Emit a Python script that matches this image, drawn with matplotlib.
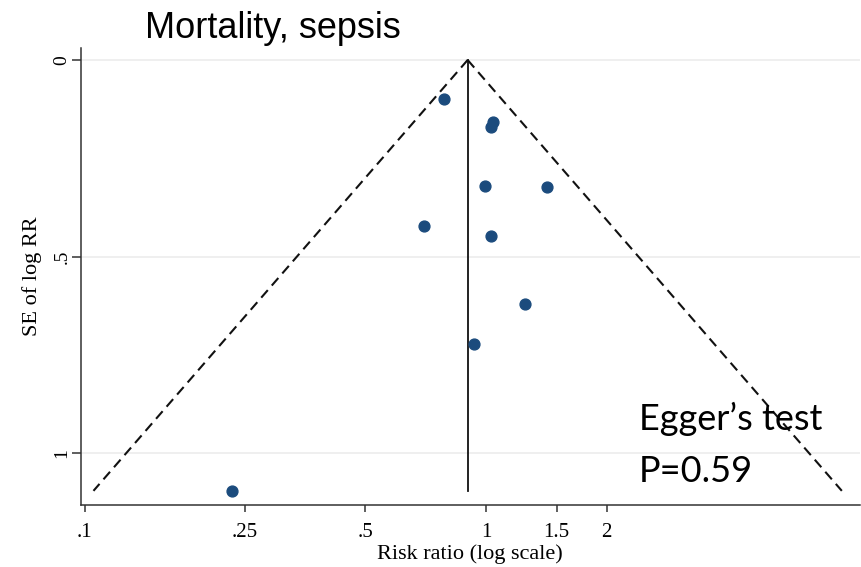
import matplotlib.pyplot as plt
import numpy as np

# funnel plot, mortality in sepsis
rr = [0.786, 1.039, 1.029, 0.996, 1.417, 0.702, 1.029, 1.253, 0.933, 0.233]
se = [0.098, 0.157, 0.170, 0.320, 0.324, 0.422, 0.448, 0.620, 0.722, 1.096]
pooled_rr = 0.90

xticks = [0.1, 0.25, 0.5, 1, 1.5, 2]
xticklabels = ['.1', '.25', '.5', '1', '1.5', '2']
yticks = [0, 0.5, 1]
yticklabels = ['0', '.5', '1']

title = 'Mortality, sepsis'
egger = ['Egger\u2019s test', 'P=0.59']

serif = 'Liberation Serif'
dot_color = '#1b4b7d'

fig = plt.figure(figsize=(8.62, 5.67), dpi=100)
ax = fig.add_axes([80.7/862, 62/567, 779.3/862, 457/567])

# grid lines at the y ticks (Stata style)
for yv in yticks:
    ax.axhline(yv, color='#ececec', lw=1.2, zorder=0)

# pseudo 95% confidence limits
se_max = max(se)
se_line = np.array([0, se_max])
lo = pooled_rr*np.exp(-1.96*se_line)
hi = pooled_rr*np.exp(1.96*se_line)
ax.plot(lo, se_line, color='#111111', lw=1.5, dashes=(4.8, 2.9), zorder=2)
ax.plot(hi, se_line, color='#111111', lw=1.5, dashes=(4.8, 2.9), zorder=2)
ax.plot([pooled_rr, pooled_rr], [0, se_max], color='#111111', lw=1.3, zorder=2)

ax.plot(rr, se, 'o', color=dot_color, ms=7.8, mec=dot_color, zorder=3)

ax.set_xscale('log')
ax.set_xlim(0.0976, 8.56)
ax.set_ylim(1.132, -0.0305)

ax.set_xticks(xticks)
ax.set_xticklabels(xticklabels, fontfamily=serif, fontsize=15)
ax.xaxis.set_minor_locator(plt.NullLocator())
ax.set_yticks(yticks)
ax.set_yticklabels(yticklabels, fontfamily=serif, fontsize=14, rotation=90, va='center')

ax.tick_params(axis='x', length=5, width=1.1, color='#333333', pad=8)
ax.tick_params(axis='y', length=6.5, width=1.1, color='#333333', pad=1)

for s in ['top', 'right']:
    ax.spines[s].set_visible(False)
for s in ['left', 'bottom']:
    ax.spines[s].set_color('#333333')
    ax.spines[s].set_linewidth(1.1)

ax.set_xlabel('Risk ratio (log scale)', fontfamily=serif, fontsize=16)
ax.xaxis.set_label_coords(0.5, -0.085)
ax.set_ylabel('SE of log RR', fontfamily=serif, fontsize=16)
ax.yaxis.set_label_coords(-0.050, 0.5)

fig.text(273/862, 1 - 38/567, title, fontfamily='Liberation Sans', fontsize=26,
         ha='center', va='baseline')
fig.text(639/862, 1 - 430/567, egger[0], fontfamily='Lato', fontsize=26,
         ha='left', va='baseline')
fig.text(639/862, 1 - 482/567, egger[1], fontfamily='Lato', fontsize=26,
         ha='left', va='baseline')

fig.savefig('out.png', dpi=100)
